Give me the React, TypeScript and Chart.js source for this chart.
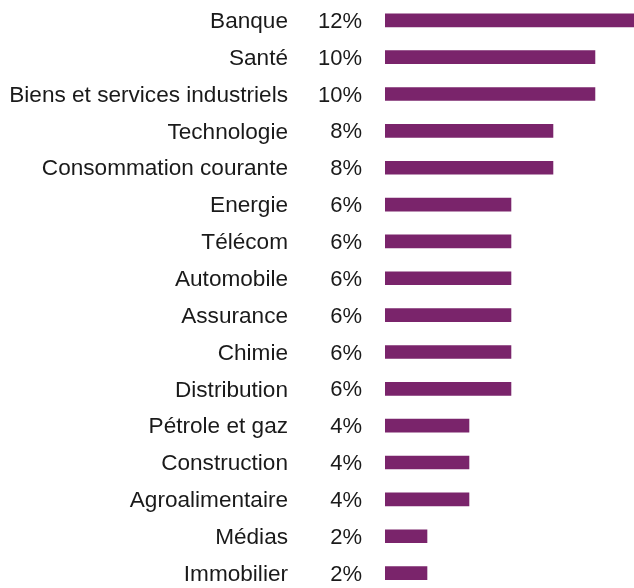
import React, { useEffect, useRef } from "react";
import { Chart, registerables } from "chart.js";

Chart.register(...registerables);

const categories = [
  "Banque",
  "Santé",
  "Biens et services industriels",
  "Technologie",
  "Consommation courante",
  "Energie",
  "Télécom",
  "Automobile",
  "Assurance",
  "Chimie",
  "Distribution",
  "Pétrole et gaz",
  "Construction",
  "Agroalimentaire",
  "Médias",
  "Immobilier",
];

const weights = [12, 10, 10, 8, 8, 6, 6, 6, 6, 6, 6, 4, 4, 4, 2, 2];

const valueLabels = weights.map((v) => v + "%");

const FONT = "'Liberation Sans', Arial, sans-serif";

const valueLabelPlugin = {
  id: "valueLabels",
  afterDraw(chart: any) {
    const ctx = chart.ctx;
    const yScale = chart.scales.y;
    const left = chart.chartArea.left;
    ctx.save();
    ctx.font = "22px " + FONT;
    ctx.fillStyle = "#1a1a1a";
    ctx.textAlign = "right";
    ctx.textBaseline = "middle";
    valueLabels.forEach((t, i) => {
      ctx.fillText(t, left - 23, yScale.getPixelForValue(i) + 1.5);
    });
    ctx.restore();
  },
};

export default function App() {
  const ref = useRef<HTMLCanvasElement>(null);

  useEffect(() => {
    if (!ref.current) return;
    const chart = new Chart(ref.current, {
      type: "bar",
      data: {
        labels: categories,
        datasets: [
          {
            data: weights,
            backgroundColor: "#7a246b",
            borderWidth: 0,
            barThickness: 13,
          },
        ],
      },
      options: {
        indexAxis: "y",
        animation: false,
        responsive: false,
        maintainAspectRatio: false,
        layout: { padding: { top: 5.9, bottom: 0.5, left: 0, right: 0 } },
        plugins: {
          legend: { display: false },
          tooltip: { enabled: false },
        },
        scales: {
          x: {
            display: false,
            min: 0,
            max: 11.86,
          },
          y: {
            grid: { display: false, drawTicks: false },
            border: { display: false },
            ticks: {
              color: "#1a1a1a",
              font: { family: FONT, size: 22.6 },
              padding: 97,
              labelOffset: 1.5,
              autoSkip: false,
            },
            afterFit(scale: any) {
              scale.width = 385;
              scale.paddingTop = 0;
              scale.paddingBottom = 0;
            },
          },
        },
      },
      plugins: [valueLabelPlugin],
    });
    return () => chart.destroy();
  }, []);

  return (
    <div style={{ position: "absolute", left: 0, top: -4, width: 634, height: 596 }}>
      <canvas ref={ref} width={634} height={596} />
    </div>
  );
}
